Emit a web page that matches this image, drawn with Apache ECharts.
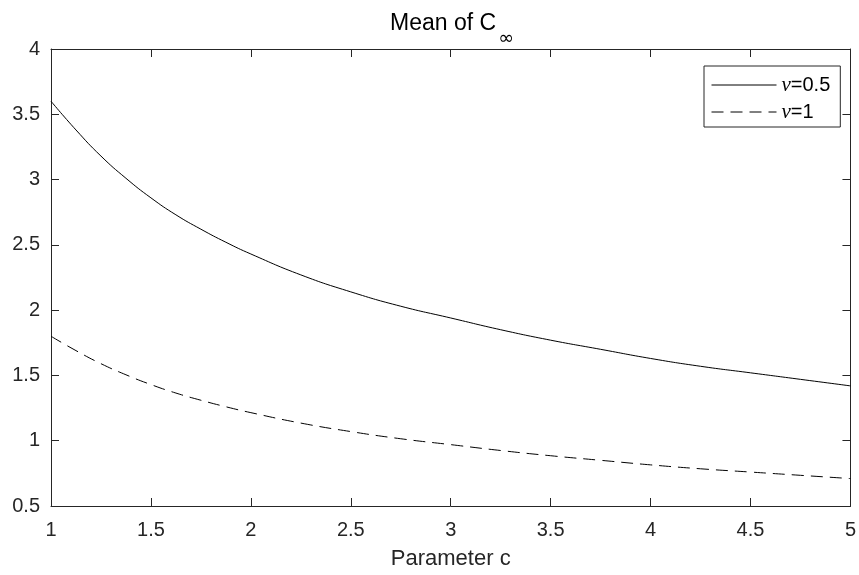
<!DOCTYPE html>
<html>
<head>
<meta charset="utf-8">
<script src="https://cdn.jsdelivr.net/npm/echarts@6/dist/echarts.min.js"></script>
<style>html,body{margin:0;padding:0;background:#fff}#main{width:859px;height:575px}</style>
</head>
<body>
<div id="main"></div>
<script>
const cValues = [1, 1.125, 1.25, 1.375, 1.5, 1.625, 1.75, 1.875, 2, 2.25, 2.5, 2.75, 3, 3.25, 3.5, 3.75, 4, 4.25, 4.5, 4.75, 5];
const meanNu05 = [3.60, 3.38, 3.18, 3.01, 2.86, 2.73, 2.62, 2.52, 2.43, 2.27, 2.14, 2.03, 1.94, 1.85, 1.77, 1.70, 1.63, 1.57, 1.52, 1.47, 1.42];
const meanNu1 = [1.80, 1.69, 1.59, 1.505, 1.43, 1.365, 1.31, 1.26, 1.215, 1.135, 1.07, 1.015, 0.97, 0.925, 0.885, 0.85, 0.815, 0.785, 0.76, 0.735, 0.71];
const seriesNames = ['nu=0.5', 'nu=1'];
const legendLabels = ['{n|ν}=0.5', '{n|ν}=1'];
const xTitle = 'Parameter c';
const chartTitle = 'Mean of C{s|∞}';

const axisColor = '#262626';
const font = 'Liberation Sans, Arial, sans-serif';

function axisBase(min, max, interval, position, showLabel) {
  return {
    type: 'value', min: min, max: max, interval: interval, position: position,
    axisLine: { show: true, lineStyle: { color: axisColor, width: 1 } },
    axisTick: { show: true, inside: true, length: 8, lineStyle: { color: axisColor, width: 1 } },
    axisLabel: { show: showLabel, fontSize: 20, color: axisColor, fontFamily: font },
    splitLine: { show: false }
  };
}

const xMain = axisBase(1, 5, 0.5, 'bottom', true);
xMain.axisLabel.margin = 14;
xMain.name = xTitle;
xMain.nameLocation = 'middle';
xMain.nameGap = 42;
xMain.nameTextStyle = { fontSize: 22, color: axisColor, fontFamily: font };
const xTop = axisBase(1, 5, 0.5, 'top', false);
const yMain = axisBase(0.5, 4, 0.5, 'left', true);
yMain.axisLabel.margin = 11;
const yRight = axisBase(0.5, 4, 0.5, 'right', false);

const chart = echarts.init(document.getElementById('main'));
chart.setOption({
  animation: false,
  backgroundColor: '#fff',
  title: {
    text: chartTitle, left: 452, textAlign: 'center', top: -2, padding: 0,
    textStyle: {
      fontFamily: font, fontSize: 23, fontWeight: 'normal', color: '#000',
      rich: { s: { fontFamily: 'DejaVu Sans, sans-serif', fontSize: 19, padding: [32, 0, 0, 2], color: '#000' } }
    }
  },
  grid: { left: 51, right: 7, top: 49, bottom: 66, containLabel: false },
  xAxis: [xMain, xTop],
  yAxis: [yMain, yRight],
  legend: {
    orient: 'vertical', left: 704, top: 66,
    padding: [8, 10, 4, 7], itemGap: 5, itemWidth: 65, itemHeight: 14,
    borderColor: axisColor, borderWidth: 1, backgroundColor: '#fff',
    itemStyle: { opacity: 0 },
    lineStyle: { width: 1 },
    data: seriesNames,
    formatter: function (name) { return legendLabels[seriesNames.indexOf(name)]; },
    textStyle: {
      fontFamily: font, fontSize: 20, color: '#000', lineHeight: 22,
      rich: { n: { fontFamily: 'Liberation Serif, serif', fontStyle: 'italic', fontSize: 21, lineHeight: 22, color: '#000' } }
    }
  },
  series: [
    {
      name: seriesNames[0], type: 'line', xAxisIndex: 0, yAxisIndex: 0,
      data: cValues.map((c, i) => [c, meanNu05[i]]),
      symbol: 'none', smooth: true,
      lineStyle: { color: '#000', width: 1, type: 'solid' }, itemStyle: { color: '#000' }
    },
    {
      name: seriesNames[1], type: 'line', xAxisIndex: 0, yAxisIndex: 0,
      data: cValues.map((c, i) => [c, meanNu1[i]]),
      symbol: 'none', smooth: true,
      lineStyle: { color: '#000', width: 1, type: [12, 7] }, itemStyle: { color: '#000' }
    }
  ]
});
</script>
</body>
</html>
